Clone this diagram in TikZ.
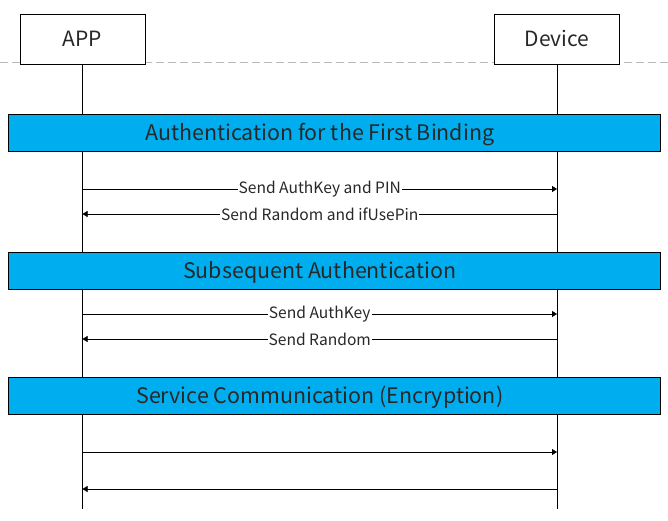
\documentclass[tikz,border=0pt]{standalone}
\usepackage{fontspec}
\setmainfont{Noto Sans CJK SC}
\usetikzlibrary{arrows.meta}
\definecolor{bandblue}{RGB}{0,174,239}
\definecolor{textgray}{RGB}{40,40,40}
\tikzset{head node/.style={draw,fill=white,minimum width=125pt,minimum height=50pt,inner sep=0pt,text=textgray,font=\fontsize{21}{25}\selectfont},
         band node/.style={draw,fill=bandblue,minimum width=652pt,minimum height=37pt,inner sep=0pt},
         band text/.style={inner sep=0pt,text=textgray,font=\fontsize{21.4}{25}\selectfont},
         msg/.style={-{Triangle[length=5pt,width=6pt]}},
         msg label/.style={fill=white,inner sep=1pt,text=textgray,font=\fontsize{15.6}{18}\selectfont},
            }

\begin{document}
\begin{tikzpicture}[x=1pt,y=-1pt]
    \useasboundingbox (0,0) rectangle (668,521);
    \draw[gray!55,dash pattern=on 8pt off 4pt] (0,62) -- (668,62);

    \node[head node] (app) at (82.5,39) {APP};
    \node[head node] (device) at (557,39) {Device};

    % lifelines
    \coordinate (app end) at (82.5,509);
    \coordinate (device end) at (557,509);
    \draw (app) -- (app end);
    \draw (device) -- (device end);

    % phases
    \node[band node] (first) at (334,133) {};
    \node[band text] at (319.75,134.5) {Authentication for the First Binding};
    \node[band node] (subsequent) at (334,271) {};
    \node[band text] at (319.75,272.5) {Subsequent Authentication};
    \node[band node] (service) at (334,396) {};
    \node[band text] at (319.75,397.5) {Service Communication (Encryption)};

    % messages
    \coordinate (a1) at (82.5,189);  \coordinate (d1) at (557,189);
    \coordinate (a2) at (82.5,214);  \coordinate (d2) at (557,214);
    \coordinate (a3) at (82.5,314);  \coordinate (d3) at (557,314);
    \coordinate (a4) at (82.5,339);  \coordinate (d4) at (557,339);
    \coordinate (a5) at (82.5,452);  \coordinate (d5) at (557,452);
    \coordinate (a6) at (82.5,489);  \coordinate (d6) at (557,489);

    \draw[msg] (a1) -- node[msg label] {Send AuthKey and PIN} (d1);
    \draw[msg] (d2) -- node[msg label] {Send Random and ifUsePin} (a2);
    \draw[msg] (a3) -- node[msg label] {Send AuthKey} (d3);
    \draw[msg] (d4) -- node[msg label] {Send Random} (a4);
    \draw[msg] (a5) -- (d5);
    \draw[msg] (d6) -- (a6);
\end{tikzpicture}
\end{document}
